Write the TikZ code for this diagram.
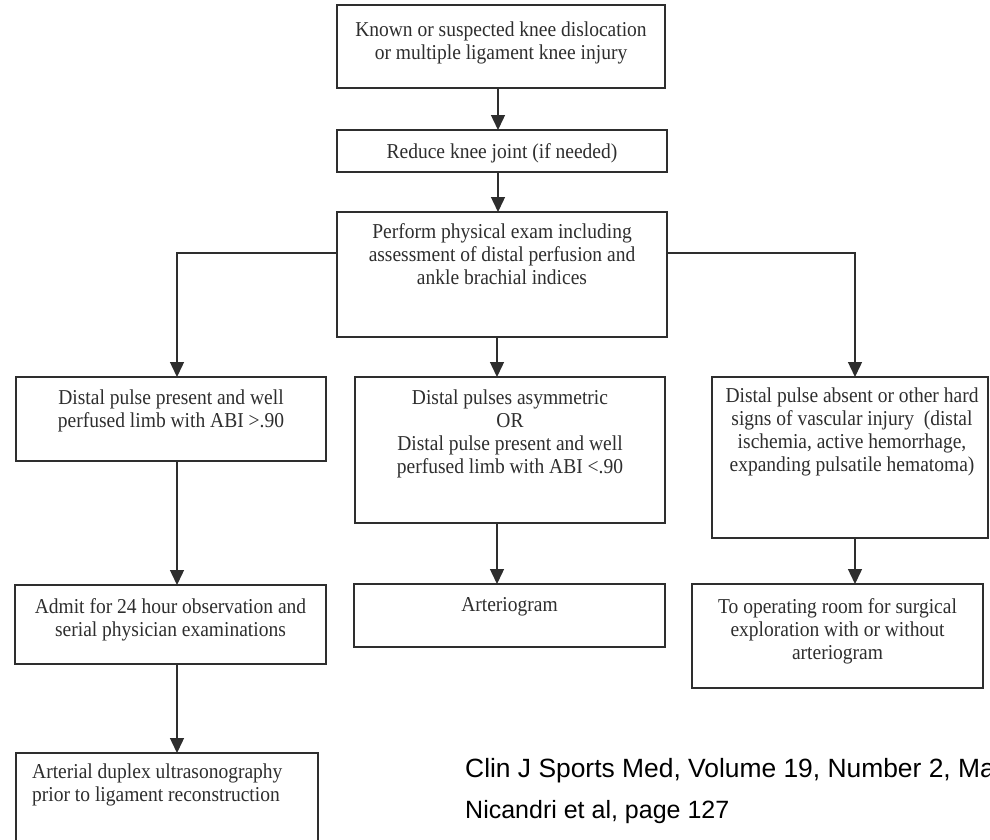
\documentclass[tikz,border=0pt]{standalone}
\usepackage{fontspec}
\setmainfont{Liberation Serif}
\newfontfamily\boxfont[FakeStretch=0.92]{Liberation Serif}
\newfontfamily\citefont{Liberation Sans}
\usetikzlibrary{arrows.meta}
\definecolor{ink}{HTML}{2E2E2E}
\begin{document}
\begin{tikzpicture}[x=1pt,y=-1pt,
  box/.style={draw=ink, line width=1.4pt, inner sep=0pt, outer sep=0pt, anchor=north west},
  txt/.style={text=ink, inner sep=0pt, align=center, font=\boxfont\fontsize{21.2}{23}\selectfont, anchor=north},
  cite/.style={text=black, inner sep=0pt, font=\citefont\fontsize{25}{30}\selectfont, anchor=base west},
  arr/.style={draw=ink, line width=1.4pt, -{Triangle[width=14pt,length=15pt]}},
  ln/.style={draw=ink, line width=1.4pt}]
\useasboundingbox (0,0) rectangle (990,839);
\clip (0,0) rectangle (990,839);
\fill[white] (0,0) rectangle (990,839);

\coordinate (ct) at (498,0);
\coordinate (cl) at (177,0);
\coordinate (cm) at (497,0);
\coordinate (cr) at (855,0);
\coordinate (hy) at (0,253);

% boxes
\node[box, minimum width=328pt, minimum height=83pt] (B1) at (337,5) {};
\node[box, minimum width=330pt, minimum height=42pt] (B2) at (337,130) {};
\node[box, minimum width=330pt, minimum height=125pt] (B3) at (337,212) {};
\node[box, minimum width=310pt, minimum height=84pt] (B4) at (16,377) {};
\node[box, minimum width=310pt, minimum height=146pt] (B5) at (355,377) {};
\node[box, minimum width=276pt, minimum height=161pt] (B6) at (712,377) {};
\node[box, minimum width=311pt, minimum height=79pt] (B7) at (15,585) {};
\node[box, minimum width=302pt, minimum height=120pt] (B8) at (16,753) {};
\node[box, minimum width=311pt, minimum height=63pt] (B9) at (354,584) {};
\node[box, minimum width=291pt, minimum height=104pt] (B10) at (692,584) {};

% texts
\node[txt] (T1) at ([yshift=-17pt]B1.north) {Known or suspected knee dislocation\\or multiple ligament knee injury};
\node[txt] (T2) at ([yshift=-13pt]B2.north) {Reduce knee joint (if needed)};
\node[txt] (T3) at ([yshift=-11pt]B3.north) {Perform physical exam including\\assessment of distal perfusion and\\ankle brachial indices};
\node[txt] (T4) at ([yshift=-13pt]B4.north) {Distal pulse present and well\\perfused limb with ABI >.90};
\node[txt] (T5) at ([yshift=-13pt]B5.north) {Distal pulses asymmetric\\OR\\Distal pulse present and well\\perfused limb with ABI <.90};
\node[txt] (T6) at ([xshift=2pt,yshift=-11pt]B6.north) {Distal pulse absent or other hard\\signs of vascular injury\ \ (distal\\ischemia, active hemorrhage,\\expanding pulsatile hematoma)};
\node[txt] (T7) at ([yshift=-13pt]B7.north) {Admit for 24 hour observation and\\serial physician examinations};
\node[txt, anchor=north west, align=left] (T8) at ([xshift=16pt,yshift=-11pt]B8.north west) {Arterial duplex ultrasonography\\prior to ligament reconstruction};
\node[txt] (T9) at ([yshift=-13pt]B9.north) {Arteriogram};
\node[txt] (T10) at ([yshift=-14pt]B10.north) {To operating room for surgical\\exploration with or without\\arteriogram};

% connectors
\draw[arr] (B1.south -| ct) -- (B2.north -| ct);
\draw[arr] (B2.south -| ct) -- (B3.north -| ct);
\draw[arr] (B3.west |- hy) -| (B4.north -| cl);
\draw[arr] (B3.east |- hy) -| (B6.north -| cr);
\draw[arr] (B3.south -| cm) -- (B5.north -| cm);
\draw[arr] (B4.south -| cl) -- (B7.north -| cl);
\draw[arr] (B7.south -| cl) -- (B8.north -| cl);
\draw[arr] (B5.south -| cm) -- (B9.north -| cm);
\draw[arr] (B6.south -| cr) -- (B10.north -| cr);

% citation
\node[cite, font=\citefont\fontsize{26.4}{30}\selectfont] (C1) at (465,777) {Clin J Sports Med, Volume 19, Number 2, Ma};
\node[cite] (C2) at (465,818) {Nicandri et al, page 127};
\end{tikzpicture}
\end{document}
